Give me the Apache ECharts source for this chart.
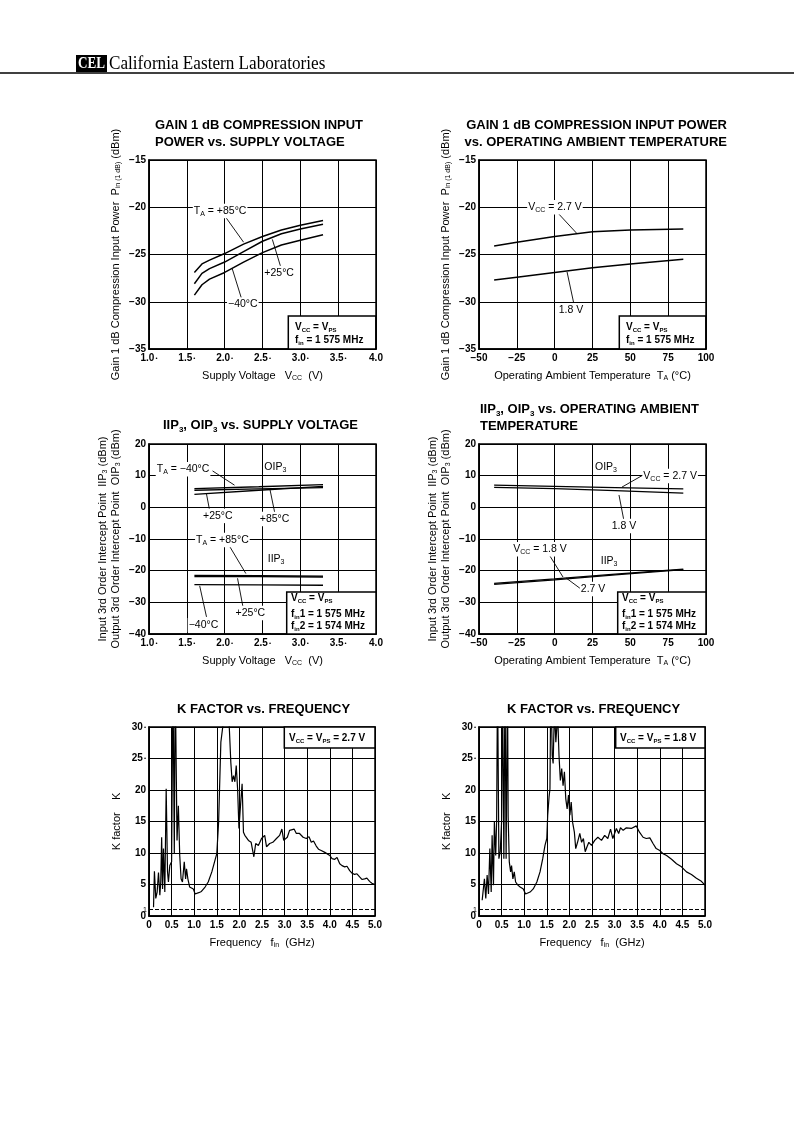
<!DOCTYPE html>
<html><head><meta charset="utf-8">
<script src="https://cdn.jsdelivr.net/npm/echarts@6/dist/echarts.min.js"></script>
<style>html,body{margin:0;padding:0;background:#fff}#c{width:794px;height:1123px}</style>
</head><body><div id="c"></div><script>
// ---------------- DATA ----------------
// Chart 1: Gain 1dB compression input power vs supply voltage
const vccPts = [1.6, 1.7, 1.8, 2.0, 2.25, 2.5, 2.75, 3.0, 3.3];
const pin_p85 = [-26.9, -26.0, -25.6, -24.9, -23.9, -23.1, -22.4, -21.9, -21.4];
const pin_p25 = [-28.1, -27.0, -26.5, -25.8, -24.7, -23.6, -22.8, -22.3, -21.8];
const pin_m40 = [-29.3, -28.2, -27.6, -26.9, -25.8, -24.8, -24.0, -23.5, -22.9];
// Chart 2: Gain 1dB compression input power vs temperature
const tempPts = [-40, -25, 0, 25, 50, 85];
const pinT_27 = [-24.1, -23.7, -23.1, -22.6, -22.4, -22.3];
const pinT_18 = [-27.7, -27.4, -26.9, -26.4, -26.0, -25.5];
// Chart 3: IIP3 / OIP3 vs supply voltage
const vccIP = [1.6, 2.45, 3.3];
const oip3_m40 = [5.9, 6.5, 7.2];
const oip3_p25 = [4.1, 5.4, 6.6];
const oip3_p85 = [5.4, 5.8, 6.2];
const iip3_p85 = [-21.5, -21.6, -21.7];
const iip3_p25 = [-21.9, -21.9, -22.0];
const iip3_m40 = [-24.4, -24.5, -24.6];
// Chart 4: IIP3 / OIP3 vs temperature
const tempIP = [-40, 0, 40, 85];
const oip3T_27 = [7.0, 6.6, 6.2, 5.8];
const oip3T_18 = [6.3, 5.9, 5.3, 4.5];
const iip3T_18 = [-24.3, -22.9, -21.3, -19.7];
const iip3T_27 = [-24.0, -22.6, -21.1, -19.5];
// Chart 5: K factor vs frequency, 2.7 V
const kFreq27 = [0.10,0.12,0.15,0.18,0.21,0.24,0.26,0.28,0.30,0.32,0.35,0.38,0.41,0.43,0.46,0.50,0.53,0.56,0.58,0.62,0.65,0.68,0.71,0.74,0.78,0.81,0.83,0.86,0.90,0.98,1.02,1.10,1.16,1.24,1.31,1.39,1.45,1.50,1.54,1.59,1.64,1.70,1.77,1.81,1.84,1.87,1.90,1.93,1.96,1.99,2.03,2.06,2.09,2.12,2.20,2.26,2.32,2.36,2.42,2.49,2.56,2.60,2.67,2.74,2.82,2.89,2.94,2.98,3.06,3.11,3.15,3.21,3.26,3.33,3.41,3.48,3.54,3.59,3.64,3.70,3.75,3.81,3.89,3.93,4.00,4.05,4.11,4.16,4.22,4.27,4.33,4.38,4.44,4.49,4.55,4.60,4.66,4.71,4.77,4.82,4.88,4.93,5.00];
const kVal27  = [1.4,7.1,2.8,3.8,6.9,3.3,5.4,12.5,4.3,10.7,3.8,20.2,7.0,5.4,8.0,8.6,38,10,38,12,17.5,9.6,5.9,5.4,8.6,5.9,7.5,5.9,4.6,4.3,3.5,3.7,3.9,4.6,5.4,7.0,8.6,9.9,14.9,27.6,30.5,34,31,24.4,21.3,22.3,21.3,23.9,20.2,13.9,18.1,21.0,13.3,12.8,12.0,11.7,9.4,11.5,11.2,12.3,12.8,11.0,11.5,11.7,12.3,12.8,13.8,12.0,12.5,13.6,13.3,13.8,13.1,13.1,12.5,12.3,12.6,11.7,11.9,11.1,10.6,10.4,10.1,10.4,9.6,9.1,9.0,9.3,8.3,8.0,7.8,7.9,7.2,6.8,6.6,6.7,6.2,5.8,5.9,6.0,5.5,5.2,5.0];
// Chart 6: K factor vs frequency, 1.8 V
const kFreq18 = [0.07,0.12,0.15,0.18,0.21,0.24,0.27,0.29,0.32,0.34,0.37,0.39,0.41,0.44,0.47,0.50,0.52,0.55,0.575,0.60,0.63,0.645,0.67,0.70,0.72,0.75,0.78,0.81,0.86,0.91,0.98,1.03,1.13,1.20,1.28,1.35,1.41,1.46,1.50,1.52,1.55,1.57,1.59,1.62,1.64,1.67,1.70,1.74,1.77,1.80,1.83,1.86,1.89,1.92,1.95,1.98,2.01,2.04,2.07,2.11,2.14,2.18,2.23,2.27,2.31,2.35,2.39,2.43,2.49,2.56,2.63,2.71,2.78,2.85,2.91,2.96,3.04,3.09,3.13,3.19,3.26,3.37,3.48,3.55,3.63,3.70,3.78,3.85,3.92,4.00,4.07,4.15,4.26,4.37,4.48,4.59,4.70,4.81,4.92,5.00];
const kVal18  = [2.5,5.9,2.8,6.5,3.5,10.7,3.8,12.8,4.9,14.9,9.6,15.2,38,9.1,10.2,15.0,38,9.1,38,9.1,38,15.8,8.6,7.0,8.0,5.9,7.0,5.4,4.9,4.6,4.3,3.5,3.8,4.3,5.4,7.0,9.1,11.2,12.3,16.0,18.9,20.2,38,25.5,24.2,33,27.6,32,25.5,21.5,23.4,20.7,22.9,18.6,17.0,19.2,16.0,18.1,14.9,13.3,10.7,11.7,13.1,11.7,12.3,10.2,11.0,11.7,11.2,12.0,12.5,12.0,12.8,12.3,13.8,12.3,13.9,13.1,14.0,13.6,14.0,13.9,14.3,13.3,12.5,12.3,12.4,11.5,10.7,10.4,9.9,9.6,9.0,8.3,7.8,7.0,6.6,6.0,5.5,4.9];
// Tick labels
const vccTicks = ['1.0•','1.5•','2.0•','2.5•','3.0•','3.5•','4.0'];
const tempTicks = ['−50','−25','0','25','50','75','100'];
const gainTicks = ['−35','−30','−25','−20','−15'];
const ipTicks = ['−40','−30','−20','−10','0','10','20'];
const kTicks = ['0','5','10','15','20','25•','30•'];
const freqTicks = ['0','0.5','1.0','1.5','2.0','2.5','3.0','3.5','4.0','4.5','5.0'];

// ---------------- STYLE / LAYOUT ----------------
const TF = "'Liberation Sans', Arial, Helvetica, sans-serif";
function rich(size, weight) {
  return {
    a: {fontSize: size, fontWeight: weight, fontFamily: TF, color: '#000', lineHeight: size + 2},
    s: {fontSize: Math.round(size * 0.62), fontWeight: weight, fontFamily: TF, color: '#000', verticalAlign: 'bottom', lineHeight: Math.round(size * 0.62) + 1}
  };
}
const grids = [
  {left: 149, top: 160, width: 227, height: 189},
  {left: 479, top: 160, width: 227, height: 189},
  {left: 149, top: 444, width: 227, height: 190},
  {left: 479, top: 444, width: 227, height: 190},
  {left: 149, top: 727, width: 226, height: 189},
  {left: 479, top: 727, width: 226, height: 189}
].map(g => Object.assign({show: true, borderColor: '#000', borderWidth: 1.5, containLabel: false}, g));

function tickFmt(arr, min, step) {
  return v => {
    const s = arr[Math.round((v - min) / step)];
    if (s === undefined) return '';
    return s.indexOf('•') >= 0 ? '{n|' + s.replace('•', '') + '}{d|•}' : '{n|' + s + '}';
  };
}
const labelRich = {n: {fontSize: 10, fontWeight: 'bold', fontFamily: TF, color: '#000'}, d: {fontSize: 6, color: '#000', padding: [0, 0, 0, 1]}};
function axis(gi, min, max, step, ticks, name, nameGap, margin) {
  return {
    gridIndex: gi, type: 'value', min: min, max: max, interval: step,
    axisLine: {show: true, onZero: false, lineStyle: {color: '#000', width: 1.5}},
    axisTick: {show: false},
    splitLine: {show: true, lineStyle: {color: '#000', width: 1}},
    axisLabel: {formatter: tickFmt(ticks, min, step), rich: labelRich, margin: margin},
    name: name, nameLocation: 'middle', nameGap: nameGap,
    nameTextStyle: {rich: rich(11, 'normal'), lineHeight: 12}
  };
}
const xName1 = '{a|Supply Voltage   V}{s|CC}{a|  (V)}';
const xName2 = '{a|Operating Ambient Temperature  T}{s|A}{a| (°C)}';
const xName5 = '{a|Frequency   f}{s|in}{a|  (GHz)}';
const yName1 = '{a|Gain 1 dB Compression Input Power  P}{s|in (1 dB)}{a| (dBm)}';
const yName3 = '{a|Input 3rd Order Intercept Point  IIP}{s|3}{a| (dBm)}\n{a|Output 3rd Order Intercept Point  OIP}{s|3}{a| (dBm)}';
const yName5 = '{a|K factor    K}';

const xAxes = [
  axis(0, 1, 4, 0.5, vccTicks, xName1, 20, 4),
  axis(1, -50, 100, 25, tempTicks, xName2, 20, 4),
  axis(2, 1, 4, 0.5, vccTicks, xName1, 20, 4),
  axis(3, -50, 100, 25, tempTicks, xName2, 20, 4),
  axis(4, 0, 5, 0.5, freqTicks, xName5, 20, 4),
  axis(5, 0, 5, 0.5, freqTicks, xName5, 20, 4)
];
const yAxes = [
  axis(0, -35, -15, 5, gainTicks, yName1, 27, 3),
  axis(1, -35, -15, 5, gainTicks, yName1, 27, 3),
  axis(2, -40, 20, 10, ipTicks, yName3, 27, 3),
  axis(3, -40, 20, 10, ipTicks, yName3, 27, 3),
  axis(4, 0, 30, 5, kTicks, yName5, 26, 3),
  axis(5, 0, 30, 5, kTicks, yName5, 26, 3)
];

// Annotations (data coordinates)
const annots = [
  {texts: [['{a|T}{s|A}{a| = +85°C}', [1.94, -20.4]], ['{a|+25°C}', [2.72, -26.96]], ['{a|−40°C}', [2.24, -30.3]]],
   arrows: [[[2.0, -20.9], [2.25, -23.7]], [[2.74, -26.3], [2.63, -23.4]], [[2.22, -29.6], [2.1, -26.5]]]},
  {texts: [['{a|V}{s|CC}{a| = 2.7 V}', [0.2, -20]], ['{a|1.8 V}', [10.8, -30.9]]],
   arrows: [[[1.5, -20.5], [14.8, -22.8]], [[12.8, -30.3], [8.2, -26.85]]]},
  {texts: [['{a|T}{s|A}{a| = −40°C}', [1.45, 12]], ['{a|OIP}{s|3}', [2.67, 12.7]], ['{a|+25°C}', [1.91, -2.7]], ['{a|+85°C}', [2.66, -3.7]],
           ['{a|T}{s|A}{a| = +85°C}', [1.97, -10.3]], ['{a|IIP}{s|3}', [2.68, -16.3]], ['{a|+25°C}', [2.34, -33.4]], ['{a|−40°C}', [1.72, -37.2]]],
   arrows: [[[1.84, 11.5], [2.13, 7.0]], [[1.8, -0.85], [1.76, 4.2]], [[2.66, -1.5], [2.6, 5.5]], [[2.04, -11.3], [2.28, -20.9]],
            [[2.24, -31.2], [2.17, -22.4]], [[1.76, -34.6], [1.67, -24.8]]]},
  {texts: [['{a|OIP}{s|3}', [33.9, 12.7]], ['{a|V}{s|CC}{a| = 2.7 V}', [76.3, 9.9]], ['{a|1.8 V}', [45.8, -5.9]],
           ['{a|V}{s|CC}{a| = 1.8 V}', [-9.7, -13.2]], ['{a|IIP}{s|3}', [36, -17.1]], ['{a|2.7 V}', [25.4, -25.8]]],
   arrows: [[[58.4, 10.2], [44.5, 6.4]], [[45.8, -4.3], [42.5, 3.9]], [[-4.4, -14.4], [5.5, -22.0]], [[17.4, -25.8], [7.5, -22.3]]]},
  {texts: [], arrows: []},
  {texts: [], arrows: []}
];

function annotate(gi) {
  const a = annots[gi];
  return {
    markPoint: {
      silent: true, symbol: 'rect', symbolSize: 1, itemStyle: {color: 'rgba(0,0,0,0)'}, animation: false,
      label: {show: true, position: 'inside', backgroundColor: '#fff', padding: [1, 1], rich: rich(10.5, 'normal')},
      data: a.texts.map(t => ({coord: t[1], value: 0, label: {formatter: t[0]}}))
    },
    markLine: {
      silent: true, symbol: ['none', 'arrow'], symbolSize: [0, 7], animation: false,
      itemStyle: {color: '#000'},
      lineStyle: {color: '#000', width: 0.9, type: 'solid'}, label: {show: false},
      data: a.arrows.map(ar => [{coord: ar[0]}, {coord: ar[1]}])
    }
  };
}
function line(gi, xs, ys, width, extra) {
  return Object.assign({
    type: 'line', xAxisIndex: gi, yAxisIndex: gi, silent: true, showSymbol: false, symbol: 'none', clip: true,
    itemStyle: {color: '#000'},
    data: xs.map((x, i) => [x, ys[i]]), lineStyle: {color: '#000', width: width || 1.5}, z: 3
  }, extra || {});
}
const kDash = {markLine: {silent: true, symbol: 'none', animation: false,
  lineStyle: {type: 'dashed', color: '#000', width: 1}, label: {show: true, position: 'start', formatter: '1', fontSize: 7, fontFamily: TF, color: '#000', distance: 2},
  data: [{yAxis: 1}]}};

const series = [
  line(0, vccPts, pin_p85, 1.5, annotate(0)), line(0, vccPts, pin_p25), line(0, vccPts, pin_m40),
  line(1, tempPts, pinT_27, 1.5, annotate(1)), line(1, tempPts, pinT_18),
  line(2, vccIP, oip3_m40, 1.3, annotate(2)), line(2, vccIP, oip3_p25, 1.3), line(2, vccIP, oip3_p85, 1.3),
  line(2, vccIP, iip3_p85, 1.3), line(2, vccIP, iip3_p25, 1.3), line(2, vccIP, iip3_m40, 1.3),
  line(3, tempIP, oip3T_27, 1.3, annotate(3)), line(3, tempIP, oip3T_18, 1.3),
  line(3, tempIP, iip3T_18, 1.3), line(3, tempIP, iip3T_27, 1.3),
  line(4, kFreq27, kVal27, 1.2, kDash),
  line(5, kFreq18, kVal18, 1.2, kDash)
];

// Legend boxes and titles (page layout)
function box(x, y, w, h, lines, tx, ys) {
  const els = [{type: 'rect', shape: {x: x, y: y, width: w, height: h}, style: {fill: '#fff', stroke: '#000', lineWidth: 1.5}, z: 10}];
  lines.forEach((t, i) => els.push({type: 'text', x: tx, y: ys[i], z: 11,
    style: {text: t, rich: rich(10, 'bold'), align: 'left', verticalAlign: 'middle', textAlign: 'left', textVerticalAlign: 'middle'}}));
  return els;
}
const vv = '{a|V}{s|CC}{a| = V}{s|PS}';
function title(x, y, txt, align) {
  return {type: 'text', x: x, y: y, z: 12,
    style: {text: txt, rich: {a: {fontSize: 13, fontWeight: 'bold', fontFamily: TF, color: '#000', lineHeight: 17},
                              s: {fontSize: 8, fontWeight: 'bold', fontFamily: TF, color: '#000', lineHeight: 9, verticalAlign: 'bottom'}},
      align: align, textAlign: align, verticalAlign: 'top', textVerticalAlign: 'top'}};
}
const graphic = [
  {type: 'line', shape: {x1: 0, y1: 73, x2: 794, y2: 73}, style: {stroke: '#000', lineWidth: 1.5}},
  {type: 'rect', shape: {x: 76, y: 55, width: 31, height: 17}, style: {fill: '#000'}},
  {type: 'text', x: 91.5, y: 64, scaleX: 0.82, style: {text: 'CEL', fill: '#fff', font: 'bold 16px "Liberation Serif", "Times New Roman", serif', align: 'center', verticalAlign: 'middle', textAlign: 'center', textVerticalAlign: 'middle'}},
  {type: 'text', x: 109, y: 63.5, scaleX: 0.88, style: {text: 'California Eastern Laboratories', fill: '#000', font: '19.5px "Liberation Serif", "Times New Roman", serif', align: 'left', verticalAlign: 'middle', textAlign: 'left', textVerticalAlign: 'middle'}},
  title(155, 116.5, '{a|GAIN 1 dB COMPRESSION INPUT}\n{a|POWER vs. SUPPLY VOLTAGE}', 'left'),
  title(727, 116.5, '{a|GAIN 1 dB COMPRESSION INPUT POWER}\n{a|vs. OPERATING AMBIENT TEMPERATURE}', 'right'),
  title(163, 416.5, '{a|IIP}{s|3}{a|, OIP}{s|3}{a| vs. SUPPLY VOLTAGE}', 'left'),
  title(480, 400.5, '{a|IIP}{s|3}{a|, OIP}{s|3}{a| vs. OPERATING AMBIENT}\n{a|TEMPERATURE}', 'left'),
  title(177, 700.5, '{a|K FACTOR vs. FREQUENCY}', 'left'),
  title(507, 700.5, '{a|K FACTOR vs. FREQUENCY}', 'left')
].concat(
  box(288.3, 316, 87.5, 33, [vv, '{a|f}{s|in}{a| = 1 575 MHz}'], 295, [327, 340]),
  box(619.3, 316, 86.5, 33, [vv, '{a|f}{s|in}{a| = 1 575 MHz}'], 626, [327, 340]),
  box(286.7, 592, 89.3, 42, [vv, '{a|f}{s|in}{a|1 = 1 575 MHz}', '{a|f}{s|in}{a|2 = 1 574 MHz}'], 291, [598, 614, 626]),
  box(617.7, 592, 88.3, 42, [vv, '{a|f}{s|in}{a|1 = 1 575 MHz}', '{a|f}{s|in}{a|2 = 1 574 MHz}'], 622, [598, 614, 626]),
  box(284.3, 727, 90.7, 21, [vv + '{a| = 2.7 V}'], 289, [738]),
  box(615.7, 727, 89.3, 21, [vv + '{a| = 1.8 V}'], 620, [738])
);

const chart = echarts.init(document.getElementById('c'), null, {renderer: 'canvas'});
chart.setOption({
  animation: false, backgroundColor: '#fff',
  grid: grids, xAxis: xAxes, yAxis: yAxes, series: series, graphic: graphic
});
</script></body></html>
